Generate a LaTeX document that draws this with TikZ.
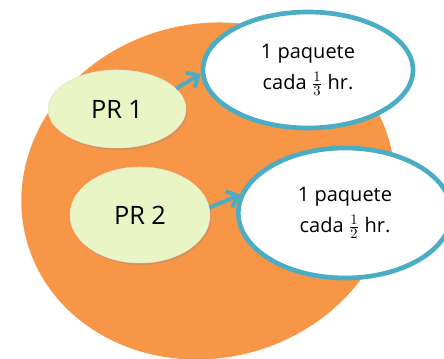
\documentclass[tikz,border=0pt]{standalone}
\usepackage{fontspec}
\setmainfont{Open Sans}
\usetikzlibrary{shapes.geometric,arrows.meta,shadows}

\definecolor{orangefill}{HTML}{F79646}
\definecolor{bubbleblue}{HTML}{4BACC6}
\definecolor{prgreen}{HTML}{EAF5C6}

\tikzset{
  prnode/.style={ellipse, fill=prgreen, draw=prgreen!80!black!40, line width=0.4pt,
    drop shadow={opacity=0.25, shadow xshift=1pt, shadow yshift=-1.5pt},
    font=\fontsize{19}{22}\selectfont, inner sep=0pt},
  bubble/.style={ellipse, fill=white, draw=bubbleblue, line width=3.5pt,
    font=\fontsize{15}{23}\selectfont, align=center, inner sep=0pt},
  flow/.style={draw=bubbleblue, line width=3pt, -{Straight Barb[length=7pt,width=13pt]}}
}

\begin{document}
\begin{tikzpicture}[x=0.75pt,y=0.75pt,yscale=-1,xscale=1]
\useasboundingbox (0,0) rectangle (444,359);

%Shape: Ellipse (background)
\fill[orangefill, rotate around={-15:(208,191)}] (208,191) ellipse [x radius=188, y radius=167];

%Shape: Ellipse PR 1
\node[prnode, minimum width=103.5pt, minimum height=58.5pt] (pr1) at (117,109) {PR 1};
%Shape: Ellipse PR 2
\node[prnode, minimum width=105pt, minimum height=72pt] (pr2) at (140,215) {PR 2};

%Shape: Ellipse bubble 1
\node[bubble, minimum width=157.5pt, minimum height=87pt] (rate1) at (308,70)
  {1 paquete\\cada $\frac{1}{3}$ hr.};
%Shape: Ellipse bubble 2
\node[bubble, minimum width=160pt, minimum height=97.5pt] (rate2) at (345,213)
  {1 paquete\\cada $\frac{1}{2}$ hr.};

%Straight Lines
\draw[flow] (pr1.19) -- (rate1.182);
\draw[flow] (pr2.6) -- (rate2.170);

\end{tikzpicture}
\end{document}
